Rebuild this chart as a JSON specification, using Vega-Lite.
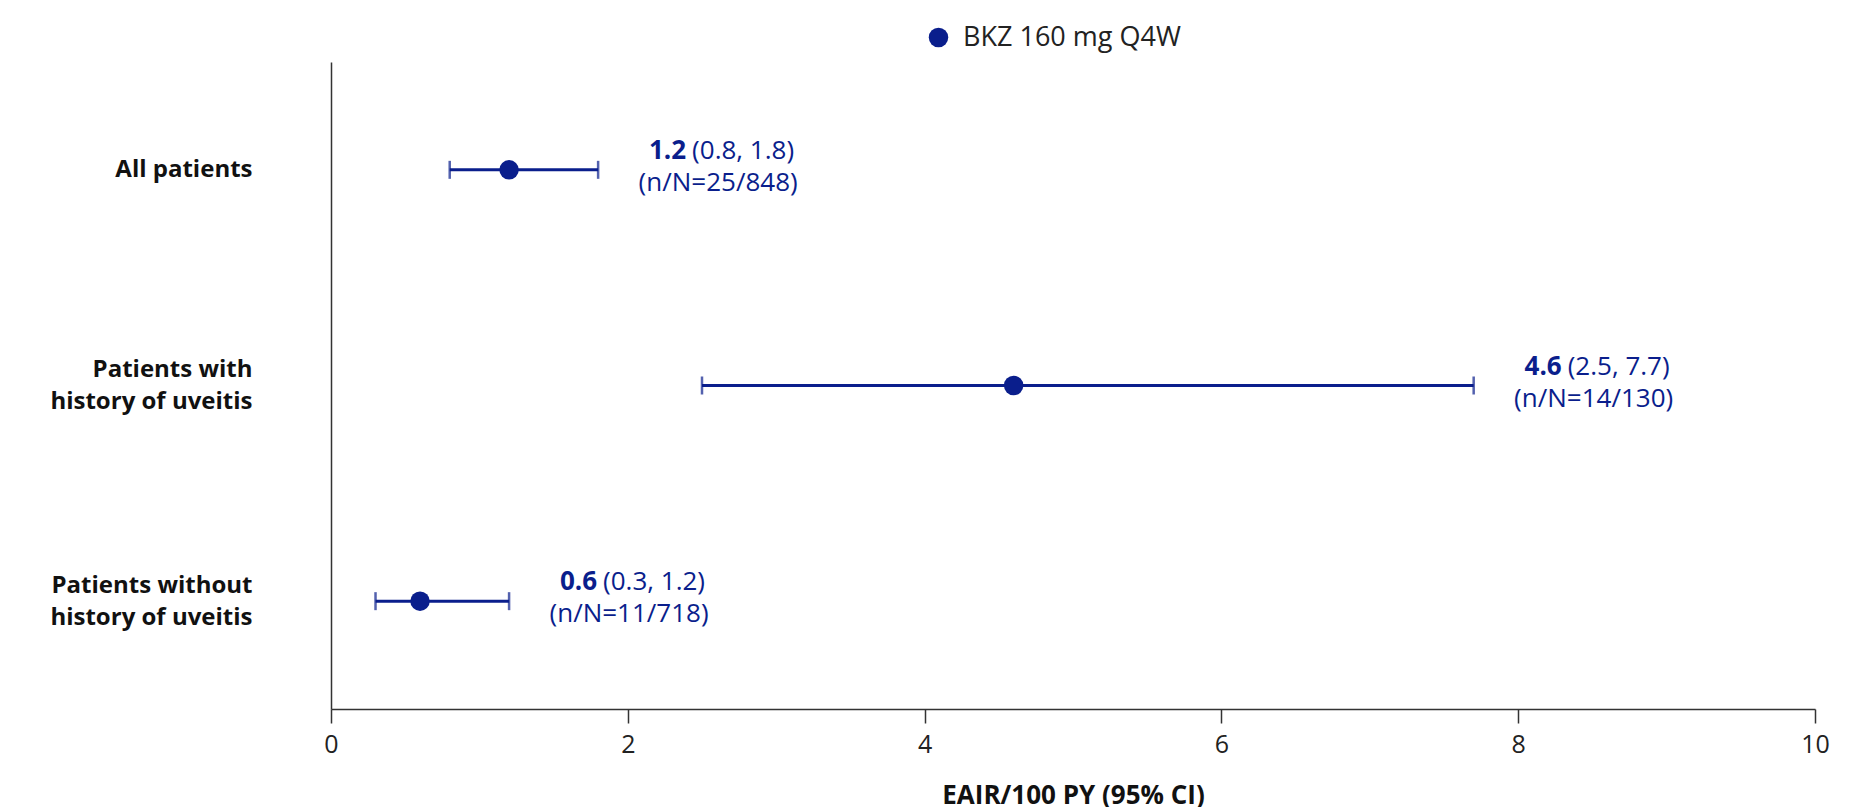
{
  "$schema": "https://vega.github.io/schema/vega-lite/v6.json",
  "width": 1484,
  "height": 647,
  "autosize": {"type": "none"},
  "padding": {"left": 331, "top": 62, "right": 60, "bottom": 98},
  "background": "white",
  "config": {
    "view": {"stroke": null},
    "font": "Open Sans",
    "axis": {"grid": false, "domainColor": "#333333", "domainWidth": 1.5, "tickColor": "#333333", "tickWidth": 1.5}
  },
  "data": {
    "values": [
      {"group": "All patients", "series": "BKZ 160 mg Q4W", "est": 1.2, "low": 0.8, "high": 1.8, "est_label": "1.2", "ci_label": "(0.8, 1.8)", "n_label": "(n/N=25/848)"},
      {"group": "Patients with\nhistory of uveitis", "series": "BKZ 160 mg Q4W", "est": 4.6, "low": 2.5, "high": 7.7, "est_label": "4.6", "ci_label": "(2.5, 7.7)", "n_label": "(n/N=14/130)"},
      {"group": "Patients without\nhistory of uveitis", "series": "BKZ 160 mg Q4W", "est": 0.6, "low": 0.3, "high": 1.2, "est_label": "0.6", "ci_label": "(0.3, 1.2)", "n_label": "(n/N=11/718)"}
    ]
  },
  "encoding": {
    "y": {
      "field": "group", "type": "nominal", "sort": null,
      "scale": {"type": "point", "padding": 0.5},
      "axis": {"title": null, "ticks": false, "labelPadding": 79, "labelFontSize": 24, "labelFontWeight": "bold", "labelColor": "#111111", "labelLineHeight": 32, "labelExpr": "split(datum.value, '\\n')", "labelLimit": 400,
        "labelOffset": {"condition": {"test": "indexof(datum.value, '\\n') >= 0", "value": -16}, "value": 0}}
    }
  },
  "layer": [
    {
      "mark": {"type": "rule", "color": "#0a1e8c", "strokeWidth": 3},
      "encoding": {
        "x": {"field": "low", "type": "quantitative", "scale": {"domain": [0, 10], "nice": false, "zero": true},
          "axis": {"title": "EAIR/100 PY (95% CI)", "values": [0, 2, 4, 6, 8, 10], "format": "d", "labelFlush": false, "tickSize": 14, "labelFontSize": 25, "labelColor": "#222222", "labelPadding": 9, "titleFontSize": 26, "titleFontWeight": "bold", "titleColor": "#111111", "titlePadding": 25}},
        "x2": {"field": "high"}
      }
    },
    {
      "mark": {"type": "tick", "color": "#0a1e8c", "orient": "vertical", "size": 18, "thickness": 2.5},
      "encoding": {"x": {"field": "low", "type": "quantitative"}}
    },
    {
      "mark": {"type": "tick", "color": "#0a1e8c", "orient": "vertical", "size": 18, "thickness": 2.5},
      "encoding": {"x": {"field": "high", "type": "quantitative"}}
    },
    {
      "mark": {"type": "point", "filled": true, "opacity": 1, "size": 380, "shape": "circle"},
      "encoding": {
        "x": {"field": "est", "type": "quantitative"},
        "color": {"field": "series", "type": "nominal", "scale": {"range": ["#0a1e8c"]},
          "legend": {"title": null, "orient": "none", "legendX": 594, "legendY": -38, "symbolSize": 380, "symbolType": "circle", "labelFontSize": 27, "labelColor": "#222222", "labelOffset": 11, "labelLimit": 400}}
      }
    },
    {
      "mark": {"type": "text", "align": "right", "baseline": "middle", "dx": 88, "dy": -19, "fontSize": 26, "fontWeight": "bold", "color": "#0a1e8c"},
      "encoding": {"x": {"field": "high", "type": "quantitative"}, "text": {"field": "est_label"}}
    },
    {
      "mark": {"type": "text", "align": "left", "baseline": "middle", "dx": 94, "dy": -19, "fontSize": 26, "color": "#0a1e8c"},
      "encoding": {"x": {"field": "high", "type": "quantitative"}, "text": {"field": "ci_label"}}
    },
    {
      "mark": {"type": "text", "align": "center", "baseline": "middle", "dx": 120, "dy": 13, "fontSize": 26, "color": "#0a1e8c"},
      "encoding": {"x": {"field": "high", "type": "quantitative"}, "text": {"field": "n_label"}}
    }
  ]
}
